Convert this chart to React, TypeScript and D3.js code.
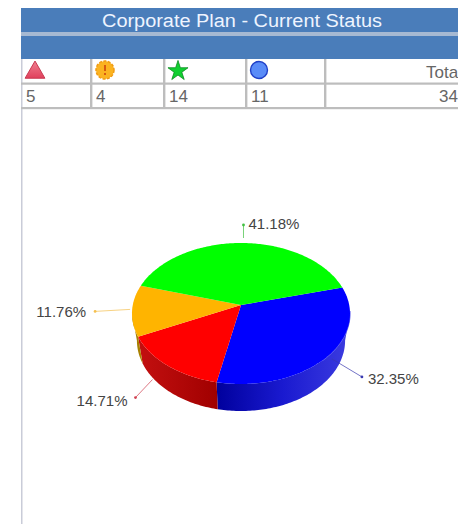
import React from 'react';
import * as d3 from 'd3';

// header table values, in column order
const statusKeys = ['red', 'amber', 'green', 'blue'];
const statusCounts = [5, 4, 14, 11];
const totalLabel = 'Total';
const totalValue = 34;
const title = 'Corporate Plan - Current Status';

// pie draws clockwise starting from the blue slice
const pieKeys = ['blue', 'red', 'amber', 'green'];
const pieValues = [11, 5, 4, 14];
const topColors = ['#0000ff', '#ff0000', '#ffb400', '#00ff00'];
const labelColors = ['#3a3ab0', '#d04050', '#f5c050', '#40c040'];

const W = 458;
const H = 524;
const columnEdges = [21, 91, 164, 246, 325, W];
const apex = { x: 241, y: 305 };
const ell = { cx: 241, cy: 313.5, rx: 109, ry: 70.5, kx: 109, ky: 70 };
const depth = 27;
const bottomScale = 0.955; // lower rim is a bit narrower than the top

// leader line offsets from the slice rim, by slice
const leaders = [
  { sx: 5, sy: 2, ex: 35, ey: 20, tx: 41, ty: 27, anchor: 'start' },
  { sx: -15, sy: 14, ex: -32, ey: 32, tx: -40, ty: 40, anchor: 'end' },
  { sx: -2, sy: -1, ex: -37, ey: 1, tx: -46, ty: 7, anchor: 'end' },
  { sx: 1, sy: -5, ex: 1, ey: -18, tx: 6, ty: -14, anchor: 'start' },
];

// ray from the apex out to the rim (the pie is drawn with some perspective)
function rim(angle: number): [number, number] {
  const dx = ell.kx * Math.sin(angle);
  const dy = -ell.ky * Math.cos(angle);
  const ox = apex.x - ell.cx;
  const oy = apex.y - ell.cy;
  const a = (dx * dx) / (ell.rx * ell.rx) + (dy * dy) / (ell.ry * ell.ry);
  const b = 2 * ((ox * dx) / (ell.rx * ell.rx) + (oy * dy) / (ell.ry * ell.ry));
  const c = (ox * ox) / (ell.rx * ell.rx) + (oy * oy) / (ell.ry * ell.ry) - 1;
  const t = (-b + Math.sqrt(b * b - 4 * a * c)) / (2 * a);
  return [apex.x + t * dx, apex.y + t * dy];
}

const line = d3.line();
const deg = Math.PI / 180;
const pie = d3
  .pie<number>()
  .sort(null)
  .startAngle(75 * deg)
  .endAngle(435 * deg);
const slices = pie(pieValues);

function arcPoints(start: number, end: number) {
  const n = Math.max(2, Math.ceil((end - start) / (1 * deg)));
  return d3.range(n + 1).map((i) => rim(start + ((end - start) * i) / n));
}

function topPath(start: number, end: number) {
  return line([[apex.x, apex.y], ...arcPoints(start, end)]) + 'Z';
}

function wallPath(start: number, end: number) {
  const pts = arcPoints(start, end).filter((p) => p[1] >= ell.cy - 1);
  if (pts.length < 2) return null;
  const lower = pts
    .map((p) => [ell.cx + (p[0] - ell.cx) * bottomScale, p[1] + depth] as [number, number])
    .reverse();
  return line([...pts, ...lower]) + 'Z';
}

const triangle = d3.symbol(d3.symbolTriangle, 170)();
const star = d3.symbol(d3.symbolStar, 125)();

function App() {
  const colX = d3.scaleOrdinal<string, number>().domain(statusKeys).range(columnEdges);
  return (
    <svg
      width={W}
      height={H}
      style={{ position: 'absolute', left: 0, top: 0, background: '#fff', fontFamily: 'Liberation Sans, Arial, sans-serif' }}
    >
      <defs>
        <linearGradient id="wallBlue" gradientUnits="userSpaceOnUse" x1={216} x2={350} y1={0} y2={0}>
          <stop offset="0" stopColor="#00009c" />
          <stop offset="0.5" stopColor="#1a1ad0" />
          <stop offset="1" stopColor="#3c3ce0" />
        </linearGradient>
        <linearGradient id="wallRed" gradientUnits="userSpaceOnUse" x1={136} x2={218} y1={0} y2={0}>
          <stop offset="0" stopColor="#c41010" />
          <stop offset="1" stopColor="#a00000" />
        </linearGradient>
        <linearGradient id="triFill" x1="0" x2="0" y1="0" y2="1">
          <stop offset="0" stopColor="#f08090" />
          <stop offset="1" stopColor="#e0405c" />
        </linearGradient>
      </defs>

      {/* page frame */}
      <rect x={21} y={8} width={1.5} height={H} fill="#c9ccd8" />

      {/* table header */}
      <rect x={21} y={8} width={W} height={24} fill="#4a7dba" />
      <rect x={21} y={32} width={W} height={4} fill="#a6b9d2" />
      <rect x={21} y={36} width={W} height={23} fill="#4a7dba" />
      <text x={242} y={27} textAnchor="middle" fontSize={18} textLength={280} lengthAdjust="spacingAndGlyphs" fill="#eef4ff">
        {title}
      </text>

      {/* table rows */}
      {[83.5, 108].map((y) => (
        <rect key={y} x={21} y={y - 1} width={W} height={2.2} fill="#bdbdbd" />
      ))}
      {columnEdges.slice(1, 5).map((x) => (
        <rect key={x} x={x - 1} y={59} width={2.4} height={50} fill="#bdbdbd" />
      ))}
      {statusKeys.map((k, i) => (
        <text key={k} x={colX(k) + 5} y={102} fontSize={17} fill="#666">
          {statusCounts[i]}
        </text>
      ))}
      <text x={462} y={78} textAnchor="end" fontSize={17} fill="#666">
        {totalLabel}
      </text>
      <text x={458} y={102} textAnchor="end" fontSize={17} fill="#666">
        {totalValue}
      </text>

      {/* status icons */}
      <path d={triangle} transform="translate(35,72.5)" fill="url(#triFill)" stroke="#c83850" strokeWidth={1} />
      <g transform="translate(105,70)">
        <circle r={9} fill="#fbb320" stroke="#f09a10" strokeWidth={1.5} strokeDasharray="3 1.5" />
        <rect x={-1} y={-5} width={2} height={6} fill="#d85a10" />
        <rect x={-1} y={3} width={2} height={2} fill="#d85a10" />
      </g>
      <path d={star} transform="translate(178,71)" fill="#10d030" stroke="#0a8a20" strokeWidth={0.8} />
      <circle cx={259} cy={70} r={8.5} fill="#5a8cf8" stroke="#2040c8" strokeWidth={1.4} />

      {/* pie walls */}
      {slices.map((s, i) => {
        const d = wallPath(s.startAngle, s.endAngle);
        if (!d) return null;
        const fill = pieKeys[i] === 'blue' ? 'url(#wallBlue)' : pieKeys[i] === 'red' ? 'url(#wallRed)' : '#a88000';
        return <path key={pieKeys[i]} d={d} fill={fill} />;
      })}

      {/* highlight along the front rim of the blue slice */}
      <path
        d={line(arcPoints(slices[0].startAngle + 20 * deg, slices[0].endAngle - 55 * deg)) as string}
        fill="none"
        stroke="#6a6af0"
        strokeWidth={1.2}
      />

      {/* pie top */}
      {slices.map((s, i) => (
        <path key={pieKeys[i]} d={topPath(s.startAngle, s.endAngle)} fill={topColors[i]} />
      ))}

      {/* leader lines and labels */}
      {slices.map((s, i) => {
        const [x, y] = rim((s.startAngle + s.endAngle) / 2);
        const l = leaders[i];
        return (
          <g key={pieKeys[i]}>
            <line x1={x + l.sx} y1={y + l.sy} x2={x + l.ex} y2={y + l.ey} stroke={labelColors[i]} strokeWidth={1} opacity={0.7} />
            <circle cx={x + l.ex} cy={y + l.ey} r={1.4} fill={labelColors[i]} />
            <text x={x + l.tx} y={y + l.ty} textAnchor={l.anchor as 'start' | 'end'} fontSize={15} fill="#444">
              {((s.value / d3.sum(pieValues)) * 100).toFixed(2)}%
            </text>
          </g>
        );
      })}
    </svg>
  );
}

export default App;
